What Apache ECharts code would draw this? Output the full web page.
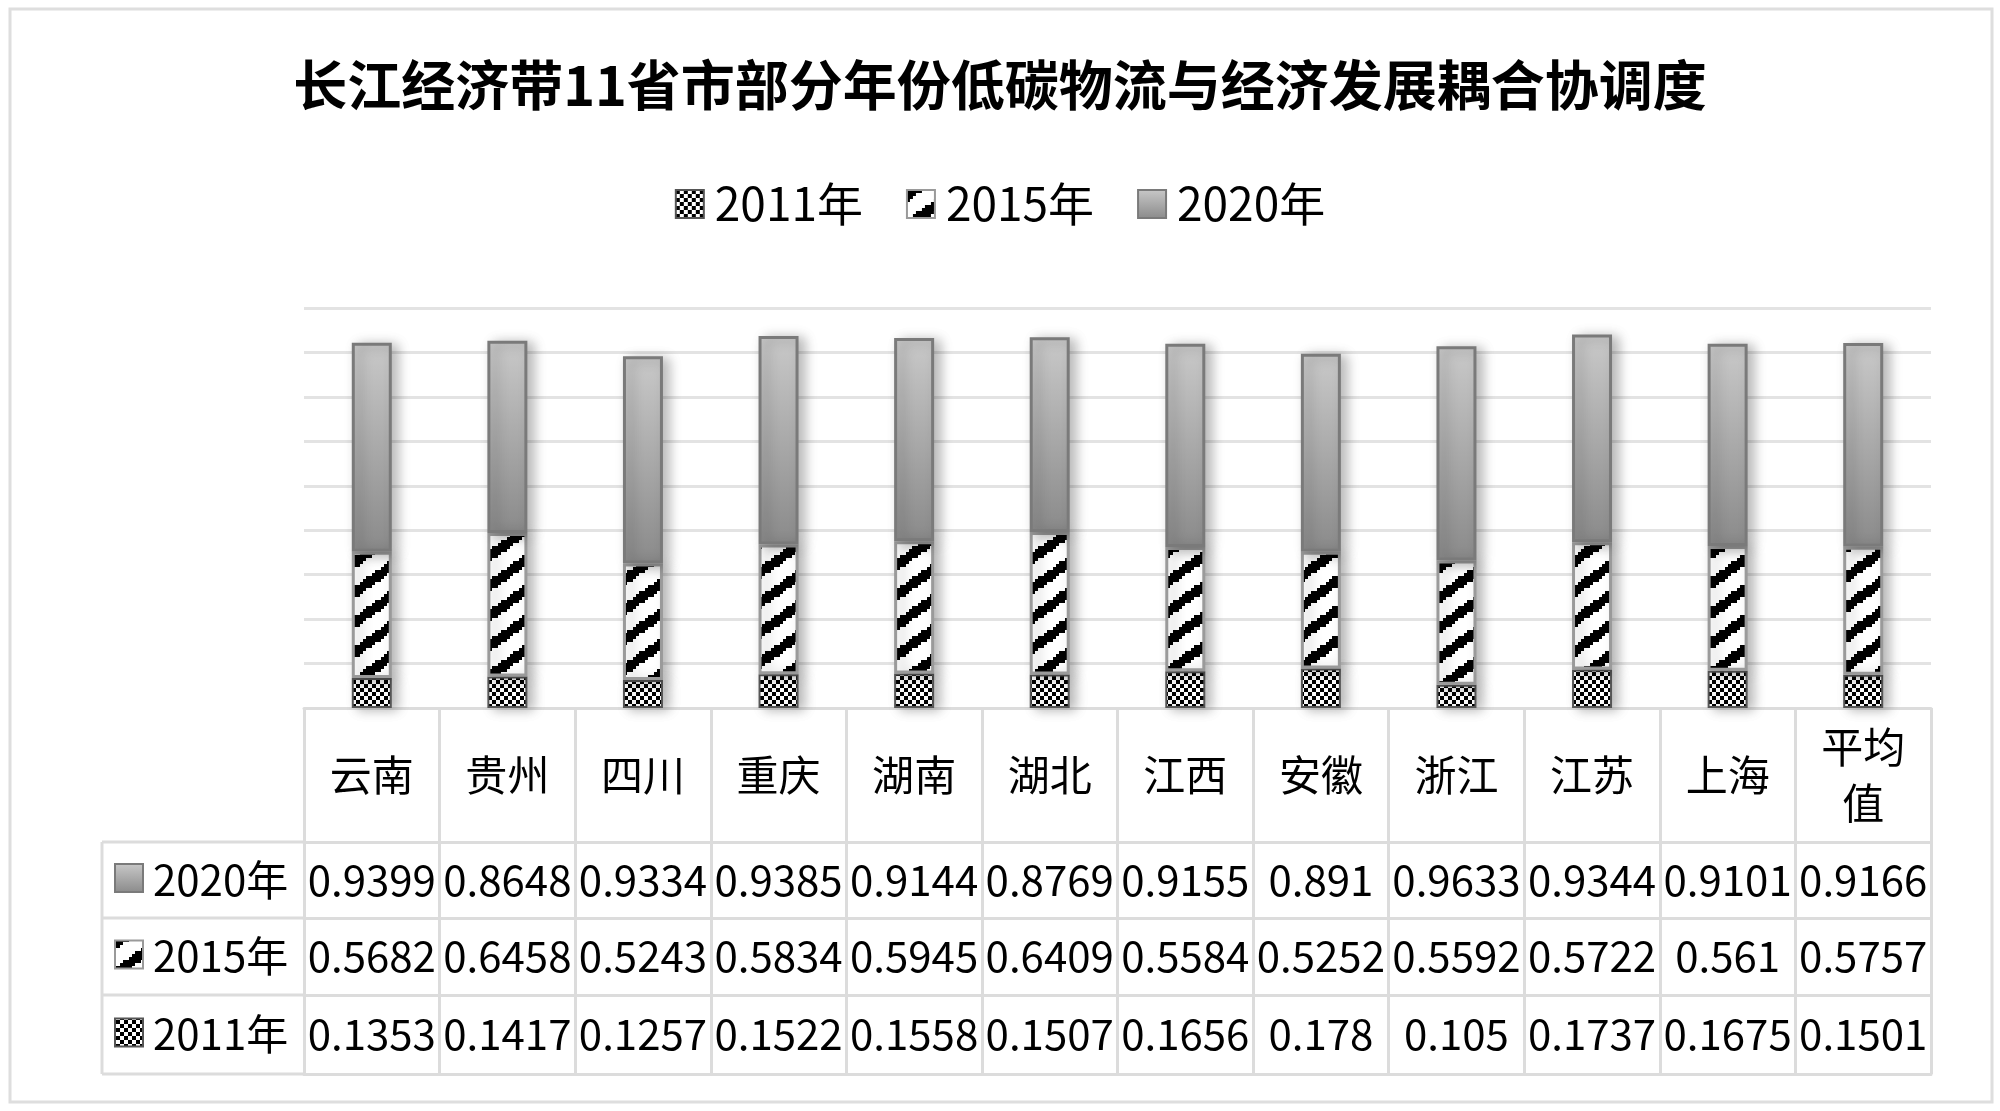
<!DOCTYPE html>
<html>
<head>
<meta charset="utf-8">
<title>长江经济带11省市部分年份低碳物流与经济发展耦合协调度</title>
<script src="https://cdn.jsdelivr.net/npm/echarts@6/dist/echarts.min.js"></script>
<style>
html,body{margin:0;padding:0;background:#fff;}
#chart1{width:2000px;height:1111px;}
</style>
</head>
<body>
<div id="chart1"></div>
<script>
//数据
var categories = ['云南', '贵州', '四川', '重庆', '湖南', '湖北', '江西', '安徽', '浙江', '江苏', '上海', '平均\n值'];
var years = ['2011年', '2015年', '2020年'];
var v2011 = [0.1353, 0.1417, 0.1257, 0.1522, 0.1558, 0.1507, 0.1656, 0.178, 0.105, 0.1737, 0.1675, 0.1501];
var v2015 = [0.5682, 0.6458, 0.5243, 0.5834, 0.5945, 0.6409, 0.5584, 0.5252, 0.5592, 0.5722, 0.561, 0.5757];
var v2020 = [0.9399, 0.8648, 0.9334, 0.9385, 0.9144, 0.8769, 0.9155, 0.891, 0.9633, 0.9344, 0.9101, 0.9166];
var yMin = 0, yMax = 1.8, yInterval = 0.2;

(function() {
	var font = '"Noto Sans CJK SC", "Noto Sans", sans-serif';
	var lineColor = '#dcdcdc';

	//棋盘格填充
	function checkerPattern(cell) {
		var c = document.createElement('canvas');
		c.width = cell * 2;
		c.height = cell * 2;
		var ctx = c.getContext('2d');
		ctx.fillStyle = '#fff';
		ctx.fillRect(0, 0, cell * 2, cell * 2);
		ctx.fillStyle = '#000';
		ctx.fillRect(0, 0, cell, cell);
		ctx.fillRect(cell, cell, cell, cell);
		return c;
	}
	//斜线填充
	function stripePattern(w, h, thick, px) {
		var c = document.createElement('canvas');
		c.width = w;
		c.height = h;
		var ctx = c.getContext('2d');
		ctx.fillStyle = '#fff';
		ctx.fillRect(0, 0, w, h);
		ctx.fillStyle = '#000';
		for (var x = 0; x < w; x += px) {
			for (var y = 0; y < h; y += px) {
				var v = (y + px / 2 + (x + px / 2) * h / w) % h;
				if (v < thick) ctx.fillRect(x, y, px, px);
			}
		}
		return c;
	}

	var fill2011 = {image: checkerPattern(4), repeat: 'repeat'};
	var fill2015 = {image: stripePattern(42, 30, 12, 3), repeat: 'repeat'};
	var fill2020 = new echarts.graphic.LinearGradient(0, 0, 0, 1, [
		{offset: 0, color: '#c9c9c9'},
		{offset: 1, color: '#8a8a8a'}
	]);

	//表格布局
	var gridLeft = 304, gridRight = 1931, gridTop = 308, gridBottom = 708;
	var rowLines = [708, 842, 918, 995, 1074];
	var tableLeft = 102;

	function fmt(arr) {
		return function(val, idx) {
			return String(arr[idx]);
		};
	}

	function rowAxis(i, formatter) {
		var top = rowLines[i], bottom = rowLines[i + 1];
		return {
			type: 'category',
			data: categories,
			position: 'bottom',
			offset: top - gridBottom,
			axisLine: {show: true, lineStyle: {color: lineColor, width: 3}},
			axisTick: {show: true, interval: 0, length: bottom - top, lineStyle: {color: lineColor, width: 3}},
			axisLabel: {
				show: !!formatter,
				interval: 0,
				margin: (bottom - top) / 2,
				verticalAlign: 'middle',
				formatter: formatter,
				color: '#000',
				fontSize: 42,
				lineHeight: 56,
				fontFamily: font
			}
		};
	}

	var xAxes = [
		rowAxis(0, function(val) { return val; }),
		rowAxis(1, fmt(v2020)),
		rowAxis(2, fmt(v2015)),
		rowAxis(3, fmt(v2011)),
		{
			type: 'category', data: categories, position: 'bottom',
			offset: rowLines[4] - gridBottom,
			axisLine: {show: true, lineStyle: {color: lineColor, width: 3}},
			axisTick: {show: false}, axisLabel: {show: false}
		}
	];

	var shadow = {shadowBlur: 12, shadowColor: 'rgba(0,0,0,0.28)', shadowOffsetX: 6, shadowOffsetY: 2};

	function barSeries(name, data, color, border, bw) {
		return {
			name: name,
			type: 'bar',
			stack: 'total',
			barWidth: 40,
			data: data,
			itemStyle: Object.assign({color: color, borderColor: border, borderWidth: bw}, shadow)
		};
	}

	//左侧图例列
	var rowNames = ['2020年', '2015年', '2011年'];
	var rowFills = [fill2020, fill2015, fill2011];
	var rowBorders = ['#7a7a7a', '#9a9a9a', '#555'];
	var graphics = [{
		type: 'rect',
		shape: {x: 10, y: 9, width: 1982, height: 1093},
		style: {fill: 'none', stroke: '#dedede', lineWidth: 3},
		z: -1
	}, {
		type: 'line',
		shape: {x1: tableLeft, y1: rowLines[1], x2: tableLeft, y2: rowLines[4]},
		style: {stroke: lineColor, lineWidth: 3}
	}];
	for (var r = 1; r < rowLines.length; r++) {
		graphics.push({
			type: 'line',
			shape: {x1: tableLeft, y1: rowLines[r], x2: gridLeft, y2: rowLines[r]},
			style: {stroke: lineColor, lineWidth: 3}
		});
	}
	for (var k = 0; k < 3; k++) {
		var cy = (rowLines[k + 1] + rowLines[k + 2]) / 2;
		graphics.push({
			type: 'rect',
			shape: {x: 115, y: cy - 16, width: 28, height: 28},
			style: {fill: rowFills[k], stroke: rowBorders[k], lineWidth: 2}
		});
		graphics.push({
			type: 'text',
			x: 153,
			y: cy,
			style: {text: rowNames[k], fill: '#000', fontSize: 42, fontFamily: font, verticalAlign: 'middle', align: 'left'}
		});
	}

	var option = {
		backgroundColor: '#fff',
		animation: false,
		title: {
			text: '长江经济带11省市部分年份低碳物流与经济发展耦合协调度',
			left: 'center',
			top: 58,
			padding: 0,
			textStyle: {fontSize: 54, fontWeight: 'bold', color: '#000', fontFamily: font}
		},
		legend: {
			data: years,
			top: 176,
			left: 'center',
			itemWidth: 28,
			itemHeight: 28,
			itemGap: 43,
			icon: 'rect',
			textStyle: {fontSize: 46, color: '#000', fontFamily: font, padding: [0, 0, 0, 6]},
			itemStyle: {shadowBlur: 0, shadowColor: 'transparent', shadowOffsetX: 0, shadowOffsetY: 0}
		},
		grid: {
			left: gridLeft,
			right: 2000 - gridRight,
			top: gridTop,
			bottom: 1111 - gridBottom,
			containLabel: false
		},
		xAxis: xAxes,
		yAxis: {
			type: 'value',
			min: yMin,
			max: yMax,
			interval: yInterval,
			axisLabel: {show: false},
			axisLine: {show: false},
			axisTick: {show: false},
			splitLine: {lineStyle: {color: '#e3e3e3', width: 3}}
		},
		graphic: graphics,
		series: [
			barSeries('2011年', v2011, fill2011, '#555', 2),
			barSeries('2015年', v2015, fill2015, '#9a9a9a', 3),
			barSeries('2020年', v2020, fill2020, '#7a7a7a', 3)
		]
	};

	var myChart = echarts.init(document.getElementById('chart1'));
	myChart.setOption(option);
})();
</script>
</body>
</html>
